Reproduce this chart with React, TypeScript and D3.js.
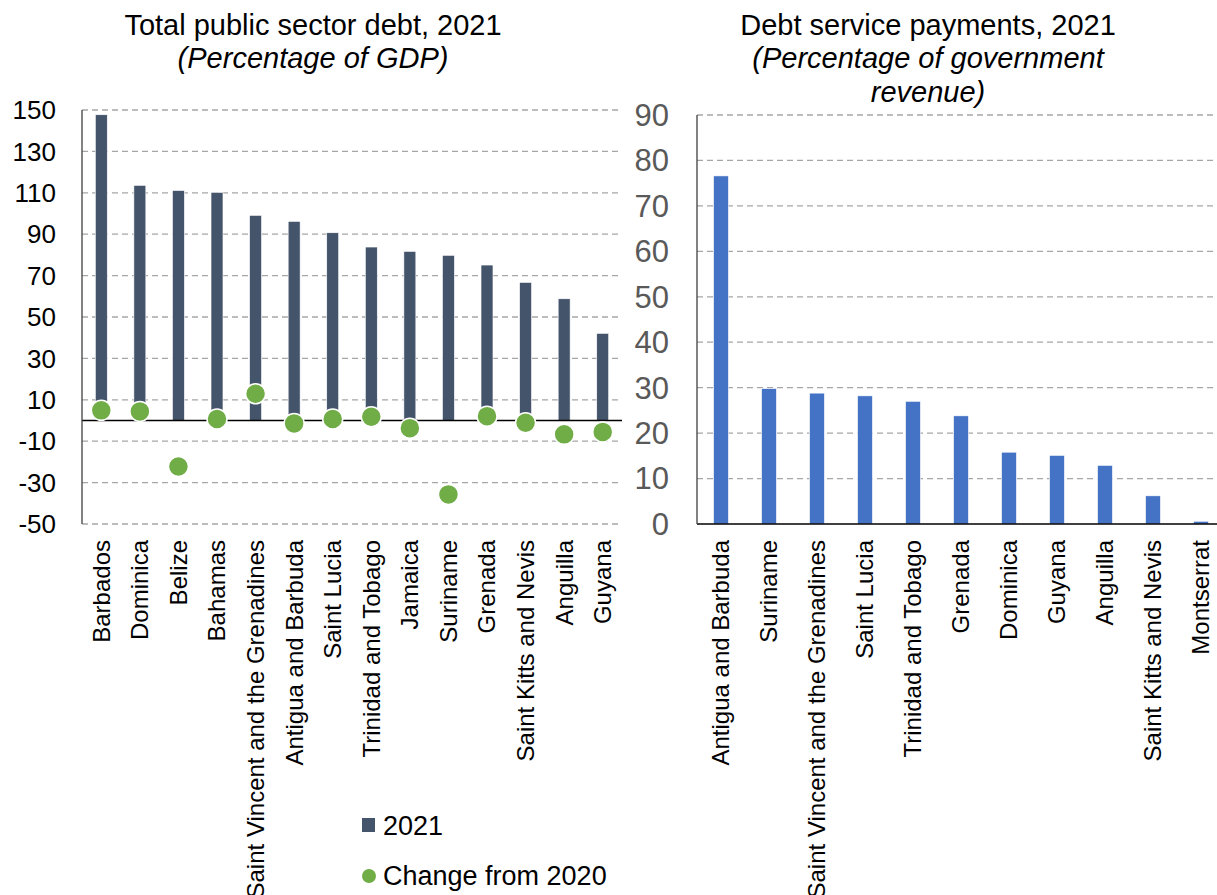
import React from "react";
import * as d3 from "d3";

const leftCategories = [
  "Barbados", "Dominica", "Belize", "Bahamas", "Saint Vincent and the Grenadines",
  "Antigua and Barbuda", "Saint Lucia", "Trinidad and Tobago", "Jamaica", "Suriname",
  "Grenada", "Saint Kitts and Nevis", "Anguilla", "Guyana",
];
const debt2021 = [147.7, 113.6, 111.1, 110.2, 99.1, 96.2, 90.7, 83.8, 81.7, 79.8, 75.1, 66.7, 58.8, 42.1];
const changeFrom2020 = [4.9, 4.4, -22.2, 0.7, 12.9, -1.4, 0.7, 1.8, -3.7, -35.7, 2.1, -1.1, -6.7, -5.5];
const leftTicks = [150, 130, 110, 90, 70, 50, 30, 10, -10, -30, -50];

const rightCategories = [
  "Antigua and Barbuda", "Suriname", "Saint Vincent and the Grenadines", "Saint Lucia",
  "Trinidad and Tobago", "Grenada", "Dominica", "Guyana", "Anguilla",
  "Saint Kitts and Nevis", "Montserrat",
];
const debtService = [76.6, 29.8, 28.8, 28.2, 27.0, 23.8, 15.8, 15.1, 12.9, 6.2, 0.6];
const rightTicks = [0, 10, 20, 30, 40, 50, 60, 70, 80, 90];

const FONT = "'Liberation Sans', Arial, sans-serif";
const BAR_DARK = "#44546A";
const GREEN = "#70AD47";
const BLUE = "#4472C4";
const GRID = "#A6A6A6";

export default function App() {
  const W = 1217;
  const H = 895;

  // Left chart
  const xL = d3.scaleBand<string>().domain(leftCategories).range([82, 622]).padding(0);
  const yL = d3.scaleLinear().domain([-50, 150]).range([524, 110]);
  const bwL = xL.step() * 0.31;

  // Right chart
  const xR = d3.scaleBand<string>().domain(rightCategories).range([697, 1225]).padding(0);
  const yR = d3.scaleLinear().domain([0, 90]).range([524, 115]);
  const bwR = xR.step() * 0.31;

  return (
    <svg width={W} height={H} style={{ position: "absolute", left: 0, top: 0, background: "#fff" }} fontFamily={FONT}>
      <rect x={0} y={0} width={W} height={H} fill="#fff" />
      {/* Left title */}
      <text x={313} y={35} textAnchor="middle" fontSize={29} fill="#000">Total public sector debt, 2021</text>
      <text x={313} y={68} textAnchor="middle" fontSize={29} fontStyle="italic" fill="#000">(Percentage of GDP)</text>

      {/* Left gridlines */}
      {leftTicks.map((t) => (
        t === 0 ? null : (
          <line key={"gl" + t} x1={82} x2={619} y1={yL(t)} y2={yL(t)} stroke={GRID} strokeWidth={1.3} strokeDasharray="6,4" />
        )
      ))}
      {leftTicks.map((t) => (
        <text key={"tl" + t} x={56} y={yL(t)} dy="0.35em" textAnchor="end" fontSize={26} fill="#000">{t}</text>
      ))}
      {/* Left bars */}
      {leftCategories.map((c, i) => {
        const cx = (xL(c) as number) + xL.step() / 2;
        const v = debt2021[i];
        return (
          <rect key={"bl" + c} x={cx - bwL / 2} y={yL(v)} width={bwL} height={yL(0) - yL(v)} fill={BAR_DARK} stroke="#fff" strokeWidth={0.6} />
        );
      })}
      {/* Zero line & axis */}
      <line x1={82} x2={622} y1={yL(0)} y2={yL(0)} stroke="#000" strokeWidth={1.5} />
      <line x1={82} x2={82} y1={yL(150)} y2={yL(-50)} stroke="#404040" strokeWidth={1.3} />
      {/* Dots */}
      {leftCategories.map((c, i) => {
        const cx = (xL(c) as number) + xL.step() / 2;
        return (
          <circle key={"dl" + c} cx={cx} cy={yL(changeFrom2020[i])} r={10} fill={GREEN} stroke="#fff" strokeWidth={1.5} />
        );
      })}
      {/* Left category labels */}
      {leftCategories.map((c) => {
        const cx = (xL(c) as number) + xL.step() / 2;
        return (
          <text key={"cl" + c} transform={`translate(${cx},540) rotate(-90)`} dy="0.35em" textAnchor="end" fontSize={24} fill="#000">{c}</text>
        );
      })}

      {/* Legend */}
      <rect x={362} y={818} width={13} height={14} fill={BAR_DARK} />
      <text x={383} y={826} dy="0.35em" fontSize={27} fill="#000">2021</text>
      <circle cx={369} cy={876} r={7} fill={GREEN} />
      <text x={383} y={876} dy="0.35em" fontSize={27} fill="#000">Change from 2020</text>

      {/* Right title */}
      <text x={928} y={35} textAnchor="middle" fontSize={29} fill="#000">Debt service payments, 2021</text>
      <text x={928} y={68} textAnchor="middle" fontSize={29} fontStyle="italic" fill="#000">(Percentage of government</text>
      <text x={928} y={102} textAnchor="middle" fontSize={29} fontStyle="italic" fill="#000">revenue)</text>

      {/* Right gridlines */}
      {rightTicks.filter((t) => t !== 0).map((t) => (
        <line key={"gr" + t} x1={697} x2={1217} y1={yR(t)} y2={yR(t)} stroke={GRID} strokeWidth={1.3} strokeDasharray="6,4" />
      ))}
      {rightTicks.map((t) => (
        <text key={"tr" + t} x={669} y={yR(t)} dy="0.35em" textAnchor="end" fontSize={31} fill="#595959">{t}</text>
      ))}
      {rightCategories.map((c, i) => {
        const cx = (xR(c) as number) + xR.step() / 2;
        const v = debtService[i];
        return (
          <rect key={"br" + c} x={cx - bwR / 2} y={yR(v)} width={bwR} height={yR(0) - yR(v)} fill={BLUE} stroke="#fff" strokeWidth={0.6} />
        );
      })}
      <line x1={697} x2={1217} y1={yR(0)} y2={yR(0)} stroke="#000" strokeWidth={1.5} />
      <line x1={697} x2={697} y1={yR(90)} y2={yR(0)} stroke="#404040" strokeWidth={1.3} />
      {rightCategories.map((c) => {
        const cx = (xR(c) as number) + xR.step() / 2;
        return (
          <text key={"cr" + c} transform={`translate(${cx},540) rotate(-90)`} dy="0.35em" textAnchor="end" fontSize={24} fill="#000">{c}</text>
        );
      })}
    </svg>
  );
}
